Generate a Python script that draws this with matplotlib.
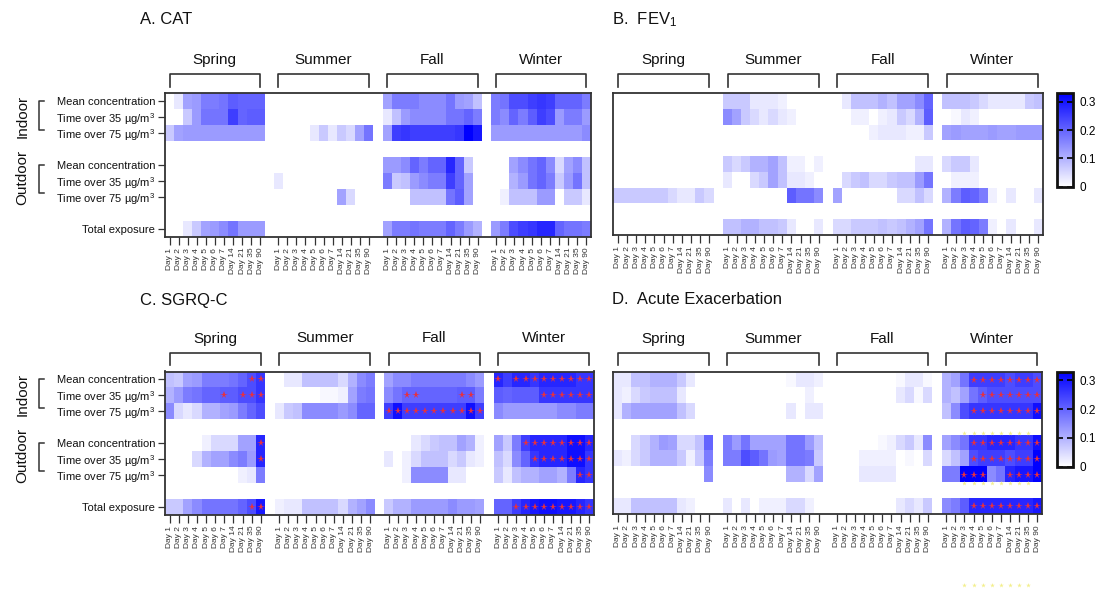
import matplotlib.pyplot as plt
import matplotlib.transforms as mtransforms
from matplotlib.colors import LinearSegmentedColormap
import numpy as np

plt.rcParams['font.family'] = ['Liberation Sans', 'DejaVu Sans']
plt.rcParams['mathtext.fontset'] = 'custom'
plt.rcParams['mathtext.rm'] = 'Liberation Sans'
plt.rcParams['mathtext.default'] = 'regular'

seasons = ['Spring', 'Summer', 'Fall', 'Winter']
days = ['Day 1', 'Day 2', 'Day 3', 'Day 4', 'Day 5', 'Day 6', 'Day 7',
        'Day 14', 'Day 21', 'Day 35', 'Day 90']
row_labels = ['Mean concentration', 'Time over 35 µg/m$^3$', 'Time over 75 µg/m$^3$',
              'Mean concentration', 'Time over 35 µg/m$^3$', 'Time over 75 µg/m$^3$',
              'Total exposure']
groups = ['Indoor', 'Outdoor']
cbar_ticks = [0, 0.1, 0.2, 0.3]
VMAX = 0.33

# rows: indoor mean / >35 / >75, outdoor mean / >35 / >75, total
# each row: spring | summer | fall | winter (11 lags each)
cat = [
    [0, .03, .12, .13, .17, .17, .18, .21, .20, .20, .20,
     0, 0, 0, 0, 0, 0, 0, 0, 0, 0, 0,
     .12, .17, .17, .17, .15, .15, .15, .18, .13, .12, .08,
     .17, .18, .23, .23, .25, .26, .25, .20, .20, .20, .17],
    [0, 0, .07, .13, .18, .18, .18, .25, .20, .21, .21,
     0, 0, 0, 0, 0, 0, 0, 0, 0, 0, 0,
     .03, .08, .13, .15, .15, .15, .15, .18, .18, .20, .17,
     .17, .15, .20, .17, .21, .25, .23, .13, .17, .17, .13],
    [.07, .12, .13, .13, .13, .13, .13, .13, .13, .13, .13,
     0, 0, 0, 0, .03, .07, .03, .07, .05, .12, .18,
     .12, .25, .26, .25, .25, .25, .25, .25, .26, .33, .30,
     .13, .13, .13, .13, .13, .13, .13, .13, .13, .13, .15],
    [0, 0, 0, 0, 0, 0, 0, 0, 0, 0, 0,
     0, 0, 0, 0, 0, 0, 0, 0, 0, 0, 0,
     .13, .13, .15, .20, .17, .20, .20, .28, .20, .07, 0,
     0, 0, .12, .15, .18, .20, .15, .05, .12, .15, .08],
    [0, 0, 0, 0, 0, 0, 0, 0, 0, 0, 0,
     .03, 0, 0, 0, 0, 0, 0, 0, 0, 0, 0,
     .17, .07, .08, .13, .15, .17, .17, .25, .20, .12, 0,
     0, 0, .10, .13, .18, .20, .17, .07, .13, .18, .08],
    [0, 0, 0, 0, 0, 0, 0, 0, 0, 0, 0,
     0, 0, 0, 0, 0, 0, 0, .12, .05, 0, 0,
     0, 0, 0, .08, .08, .08, .08, .18, .21, .12, 0,
     0, .02, .08, .08, .08, .13, .13, 0, .07, .07, .03],
    [0, 0, .03, .07, .12, .13, .15, .18, .13, .13, .13,
     0, 0, 0, 0, 0, 0, 0, 0, 0, 0, 0,
     .12, .17, .17, .18, .17, .17, .17, .20, .17, .13, .10,
     .13, .17, .23, .25, .26, .28, .28, .20, .18, .18, .17],
]

fev1 = [
    [0, 0, 0, 0, 0, 0, 0, 0, 0, 0, 0,
     .07, .07, .07, .03, .03, .03, .02, 0, 0, 0, 0,
     0, .03, .08, .08, .08, .10, .08, .12, .12, .15, .20,
     .08, .08, .08, .07, .05, .03, .03, .03, .03, .07, .08],
    [0, 0, 0, 0, 0, 0, 0, 0, 0, 0, 0,
     .15, .12, .07, .05, .03, .05, .03, .02, 0, 0, 0,
     0, 0, .02, .02, 0, .02, .03, .07, .05, .10, .21,
     0, .01, .03, .02, 0, 0, 0, 0, 0, 0, 0],
    [0, 0, 0, 0, 0, 0, 0, 0, 0, 0, 0,
     0, 0, 0, 0, 0, 0, 0, 0, 0, 0, 0,
     0, 0, 0, 0, .02, .03, .03, .03, .02, .02, .07,
     .12, .13, .12, .12, .12, .13, .12, .12, .13, .13, .13],
    [0, 0, 0, 0, 0, 0, 0, 0, 0, 0, 0,
     .07, .05, .07, .10, .10, .12, .08, .02, .02, 0, .02,
     0, 0, 0, 0, 0, 0, 0, 0, 0, .03, .03,
     .05, .07, .07, .03, 0, 0, 0, 0, 0, 0, 0],
    [0, 0, 0, 0, 0, 0, 0, 0, 0, 0, 0,
     .03, 0, 0, .05, .07, .12, .08, .03, .03, .02, 0,
     0, .05, .07, .08, .05, .05, .07, .08, .08, .13, .18,
     0, .02, .02, .02, 0, 0, 0, 0, 0, 0, 0],
    [.07, .07, .07, .07, .07, .07, .05, .03, .03, .07, .05,
     0, 0, 0, 0, 0, 0, 0, .21, .18, .18, .15,
     .12, 0, 0, 0, 0, 0, 0, .05, .05, .08, .05,
     .10, .17, .21, .20, .17, .02, 0, .03, 0, 0, .03],
    [0, 0, 0, 0, 0, 0, 0, 0, 0, 0, 0,
     .08, .08, .10, .10, .08, .08, .07, .03, 0, 0, .03,
     .05, .05, .07, .07, .07, .08, .07, .08, .10, .12, .18,
     .10, .18, .21, .20, .17, .02, 0, .03, 0, 0, .03],
]

sgrq = [
    [.08, .07, .12, .13, .17, .17, .17, .18, .20, .23, .26,
     0, .03, .03, .08, .08, .08, .08, .05, .10, .15, .17,
     .12, .15, .15, .17, .17, .17, .17, .17, .17, .15, .13,
     .28, .25, .28, .28, .26, .28, .28, .28, .28, .26, .26],
    [.10, .13, .17, .18, .20, .20, .21, .21, .23, .23, .26,
     0, 0, 0, 0, 0, .01, .01, .02, .12, .17, .18,
     .15, .18, .20, .20, .20, .20, .20, .20, .21, .21, .17,
     .21, .20, .21, .21, .21, .26, .26, .26, .26, .26, .26],
    [.15, .05, .03, .05, .10, .10, .12, .13, .17, .20, .23,
     .03, .07, .08, .15, .15, .15, .15, .13, .15, .20, .20,
     .25, .31, .25, .25, .25, .25, .25, .25, .25, .31, .25,
     .15, .13, .13, .13, .13, .13, .13, .15, .15, .17, .17],
    [0, 0, 0, 0, .02, .05, .05, .05, .12, .12, .28,
     0, 0, 0, 0, 0, 0, 0, 0, 0, 0, 0,
     0, 0, 0, .03, .05, .07, .08, .08, .12, .10, .02,
     .12, .07, .17, .25, .28, .28, .28, .28, .31, .31, .28],
    [0, 0, 0, .05, .10, .12, .12, .15, .17, .13, .28,
     0, 0, 0, 0, 0, 0, 0, 0, 0, 0, 0,
     .03, 0, .02, .05, .08, .08, .08, .05, .07, .03, .02,
     .08, .05, .15, .20, .26, .28, .28, .28, .31, .31, .26],
    [0, 0, 0, 0, 0, 0, 0, 0, .02, .03, .17,
     0, 0, 0, 0, 0, 0, 0, 0, 0, 0, 0,
     0, 0, .02, .15, .15, .15, .15, .03, .03, 0, 0,
     .07, .03, .08, .10, .10, .12, .12, .10, .17, .28, .26],
    [.07, .07, .12, .15, .18, .18, .18, .18, .20, .23, .30,
     .02, .03, .03, .08, .08, .08, .08, .05, .10, .12, .15,
     .07, .10, .10, .13, .13, .13, .13, .15, .13, .13, .12,
     .20, .20, .25, .28, .30, .31, .31, .30, .30, .28, .26],
]

ae = [
    [.03, .03, .08, .08, .10, .10, .10, .07, .03, 0, 0,
     0, 0, 0, 0, 0, 0, 0, .01, .03, .03, .02,
     0, 0, 0, 0, 0, 0, 0, .01, .03, .03, .01,
     .10, .12, .18, .25, .25, .25, .25, .23, .25, .25, .23],
    [.03, .02, .05, .07, .08, .08, .08, .03, 0, 0, 0,
     0, 0, 0, 0, 0, 0, 0, 0, 0, .02, 0,
     0, 0, 0, 0, 0, 0, 0, .03, .05, .01, .05,
     .10, .08, .12, .18, .21, .23, .23, .23, .23, .23, .23],
    [.03, .10, .12, .12, .12, .12, .12, .08, .05, 0, 0,
     0, 0, 0, 0, 0, 0, 0, .03, 0, .03, .03,
     0, 0, 0, 0, 0, 0, 0, 0, 0, 0, 0,
     .08, .15, .23, .26, .26, .26, .26, .26, .26, .26, .31],
    [0, 0, .05, .07, .10, .13, .12, .05, .05, .08, .20,
     .17, .13, .18, .12, .12, .12, .12, .18, .18, .13, .08,
     0, 0, 0, 0, 0, .01, .02, .05, .07, .03, .15,
     .12, .15, .18, .26, .26, .28, .28, .28, .26, .26, .31],
    [.03, .02, .05, .07, .10, .10, .10, .07, .02, .07, .17,
     .17, .17, .23, .21, .18, .13, .12, .18, .18, .17, .07,
     0, 0, 0, .02, .02, .02, .02, 0, .01, 0, .05,
     .05, .08, .12, .23, .25, .25, .25, .23, .25, .25, .33],
    [0, 0, 0, 0, 0, 0, 0, 0, 0, 0, .15,
     0, 0, 0, 0, 0, 0, 0, .10, .10, .05, .12,
     0, 0, 0, .03, .03, .03, .03, 0, 0, 0, 0,
     .17, .17, .33, .33, .33, .15, .18, .28, .30, .30, .33],
    [.03, .03, .08, .08, .08, .08, .08, .03, .02, 0, 0,
     .03, 0, .03, 0, .02, .02, .02, .05, .05, .02, 0,
     0, 0, 0, 0, 0, 0, 0, .03, .05, .03, .07,
     .15, .17, .21, .28, .28, .28, .28, .28, .28, .28, .30],
]

# significant cells (row -> lag column 0..43)
sgrq_stars = {
    0: [9, 10, 33, 35, 36, 37, 38, 39, 40, 41, 42, 43],
    1: [6, 8, 9, 10, 24, 25, 30, 31, 38, 39, 40, 41, 42, 43],
    2: [22, 23, 24, 25, 26, 27, 28, 29, 30, 31, 32],
    3: [10, 36, 37, 38, 39, 40, 41, 42, 43],
    4: [10, 37, 38, 39, 40, 41, 42, 43],
    5: [42, 43],
    6: [9, 10, 35, 36, 37, 38, 39, 40, 41, 42, 43],
}
ae_stars = {
    0: [36, 37, 38, 39, 40, 41, 42, 43],
    1: [37, 38, 39, 40, 41, 42, 43],
    2: [36, 37, 38, 39, 40, 41, 42, 43],
    3: [36, 37, 38, 39, 40, 41, 42, 43],
    4: [36, 37, 38, 39, 40, 41, 42, 43],
    5: [35, 36, 37, 40, 41, 42, 43],
    6: [36, 37, 38, 39, 40, 41, 42, 43],
}
ae_faint = [35, 36, 37, 38, 39, 40, 41, 42]

W, H = 1096, 590
fig = plt.figure(figsize=(W / 100, H / 100), dpi=100)


def box(l, t, r, b):
    return [l / W, 1 - b / H, (r - l) / W, (b - t) / H]


cmap = LinearSegmentedColormap.from_list('white_blue', ['#ffffff', '#0000ff'])
cmap.set_bad('white')
grid_rows = [0, 1, 2, 4, 5, 6, 8]
EDGE = '#333333'


def gcol(k):
    return (k // 11) * 12 + k % 11


def to_grid(values):
    grid = np.full((9, 47), np.nan)
    for i, gr in enumerate(grid_rows):
        for s in range(4):
            grid[gr, s * 12:s * 12 + 11] = values[i][s * 11:(s + 1) * 11]
    return grid


def draw_panel(rect, values, title, title_xy, left_labels, stars=None):
    l, t, r, b = rect
    ax = fig.add_axes(box(l, t, r, b))
    im = ax.imshow(to_grid(values), cmap=cmap, vmin=0, vmax=VMAX,
                   aspect='auto', interpolation='nearest')
    for sp in ax.spines.values():
        sp.set_color(EDGE)
        sp.set_linewidth(1.3)
    ax.set_xticks([gcol(k) for k in range(44)])
    ax.set_xticklabels(days * 4, rotation=90, fontsize=6, color='#333333')
    ax.tick_params(axis='x', length=6, width=0.9, color=EDGE, pad=2)
    if left_labels:
        ax.set_yticks(grid_rows)
        ax.set_yticklabels(row_labels, fontsize=8, color='#111111')
        ax.tick_params(axis='y', length=5, width=0.9, color=EDGE, pad=2)
        tr = mtransforms.blended_transform_factory(fig.transFigure, ax.transData)
        for name, y0, y1, yc in [(groups[0], 0, 1.8, 0.95), (groups[1], 4, 5.75, 4.75)]:
            ax.text(22.5 / W, yc, name, transform=tr, rotation=90, fontsize=11,
                    ha='center', va='center', color='#111111')
            ax.plot([43.5 / W, 39.3 / W, 39.3 / W, 43.5 / W], [y0, y0, y1, y1],
                    transform=tr, clip_on=False, color=EDGE, lw=1.1)
    else:
        ax.set_yticks([])
    # season brackets
    h = b - t
    xt = ax.get_xaxis_transform()
    for s, name in enumerate(seasons):
        x0, x1 = s * 12, s * 12 + 10
        ax.plot([x0, x0, x1, x1], [1 + 6.5 / h, 1 + 19 / h, 1 + 19 / h, 1 + 6.5 / h],
                transform=xt, clip_on=False, color=EDGE, lw=1.2)
        ax.text((x0 + x1) / 2, 1 + 33 / h, name, transform=xt, fontsize=11,
                ha='center', va='center', color='#111111')
    if stars:
        for r_i, cols in stars.items():
            ax.plot([gcol(k) for k in cols], [grid_rows[r_i]] * len(cols),
                    ls='none', marker='*', ms=5.5, mew=0, color='#e8303c')
    fig.text(title_xy[0] / W, 1 - title_xy[1] / H, title, fontsize=12,
             ha='left', va='center', color='#111111')
    return ax, im


def draw_cbar(im, rect):
    cax = fig.add_axes(box(*rect))
    cb = fig.colorbar(im, cax=cax, ticks=cbar_ticks)
    cb.ax.set_yticklabels(['0', '0.1', '0.2', '0.3'])
    cb.outline.set_linewidth(2)
    cb.outline.set_edgecolor('#111111')
    cax.tick_params(direction='in', left=True, right=True, length=4, width=1.2,
                    labelsize=8.5, pad=5)


axA, imA = draw_panel((165, 93.3, 591, 236.7), cat, 'A. CAT', (140, 20), True)
axB, imB = draw_panel((613.3, 93.3, 1042.7, 235), fev1, 'B.  FEV$_1$', (612, 20), False)
axC, imC = draw_panel((165, 371.5, 594, 514.7), sgrq, 'C. SGRQ-C', (140, 300), True,
                      sgrq_stars)
axD, imD = draw_panel((613.3, 371.7, 1042, 514.3), ae, 'D.  Acute Exacerbation',
                      (612, 300), False, ae_stars)

# faint yellow marks in panel D
for yy in [3.35, 6.55, 12.97]:
    axD.plot([gcol(k) for k in ae_faint], [yy] * len(ae_faint), ls='none', marker='*',
             ms=3.5, mew=0, color='#f3ef8c', clip_on=False)

for ax in [axA, axB, axC, axD]:
    ax.set_xlim(-0.5, 46.5)
    ax.set_ylim(8.5, -0.5)

draw_cbar(imB, (1056.7, 93.3, 1072.7, 186.7))
draw_cbar(imD, (1056.7, 371.7, 1072.7, 466.7))

fig.savefig('out.png', dpi=100)
